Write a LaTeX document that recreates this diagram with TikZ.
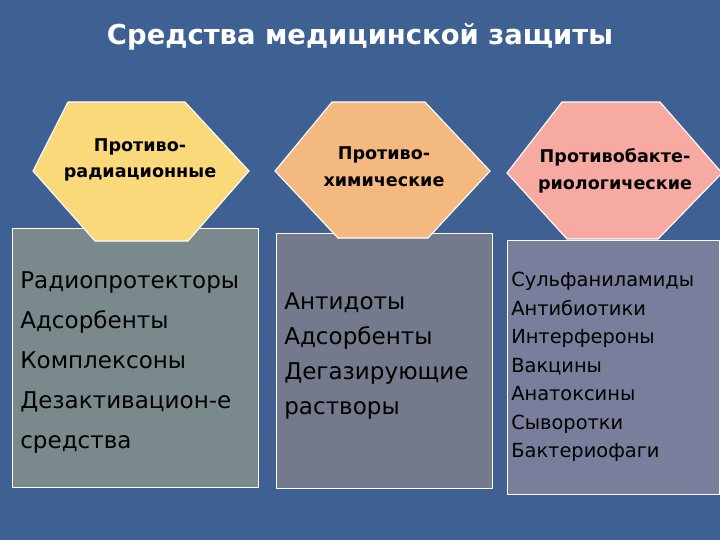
\documentclass[tikz,border=0pt]{standalone}
\usepackage{fontspec}
\setmainfont{DejaVu Sans}

\definecolor{sfondo}{RGB}{62,96,146}
\definecolor{giallo}{RGB}{249,217,122}
\definecolor{arancio}{RGB}{244,185,127}
\definecolor{rosa}{RGB}{247,170,161}
\definecolor{grigioverde}{RGB}{122,138,140}
\definecolor{grigio}{RGB}{116,122,140}
\definecolor{grigioblu}{RGB}{120,126,156}

\tikzset{
    esagono/.style={draw=white, line width=0.8pt},
    riquadro/.style={draw=white, line width=0.6pt},
    titolo/.style={text=white, font=\fontsize{19.5}{22}\selectfont\bfseries},
    etichetta/.style={align=center, inner sep=0pt, font=\fontsize{12.5}{19}\selectfont\bfseries},
    elenco/.style={align=left, anchor=north west, inner sep=0pt}
}

\begin{document}
\begin{tikzpicture}[x=0.025cm,y=-0.025cm]
        % Sfondo
        \fill[sfondo] (0,0) rectangle (720,540);
        \useasboundingbox (0,0) rectangle (720,540);

        % Titolo
        \node[titolo] (titolo) at (360,37) {Средства медицинской защиты};

        % Riquadri con gli elenchi
        \draw[riquadro, fill=grigioverde] (12,228) rectangle (258,487);
        \draw[riquadro, fill=grigio] (276,233) rectangle (492,488);
        \draw[riquadro, fill=grigioblu] (507,240) rectangle (719,494);

        % Esagoni
        \draw[esagono, fill=giallo] (68,102) -- (185,102) -- (249,171) -- (188,241) -- (95,241) -- (33,171) -- cycle;
        \draw[esagono, fill=arancio] (332,102) -- (425,102) -- (490,171) -- (428,238) -- (338,238) -- (275,171) -- cycle;
        \draw[esagono, fill=rosa] (562,102) -- (660,102) -- (722,173) -- (658,239) -- (567,239) -- (507,173) -- cycle;

        % Testi degli esagoni
        \node[etichetta] (radiazioni) at (140,160) {Противо-\\радиационные};
        \node[etichetta] (chimica) at (384,167) {Противо-\\химические};
        \node[etichetta] (batteri) at (615,171) {Противобакте-\\риологические};

        % Elenchi
        \node[elenco, font=\fontsize{16.4}{28.5}\selectfont] (elenco1) at (20,271)
            {Радиопротекторы\\Адсорбенты\\Комплексоны\\Дезактивацион-е\\средства};
        \node[elenco, font=\fontsize{16.4}{25}\selectfont] (elenco2) at (284,292)
            {Антидоты\\Адсорбенты\\Дегазирующие\\растворы};
        \node[elenco, font=\fontsize{13.8}{20.3}\selectfont] (elenco3) at (511,272)
            {Сульфаниламиды\\Антибиотики\\Интерфероны\\Вакцины\\Анатоксины\\Сыворотки\\Бактериофаги};
\end{tikzpicture}
\end{document}
